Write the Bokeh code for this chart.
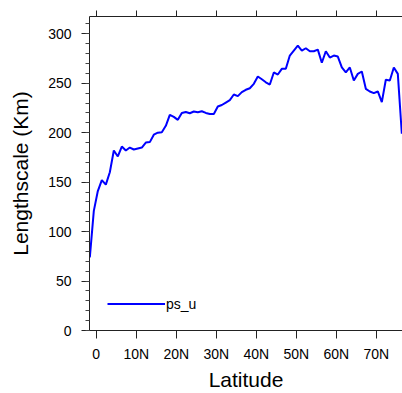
from bokeh.plotting import figure
from bokeh.models import Range1d, FixedTicker, LinearAxis, Legend, LegendItem
from bokeh.embed import file_html
from bokeh.resources import INLINE

# Data
latitude = [-1.6, -0.6, 0.4, 1.4, 2.4, 3.4, 4.4, 5.4, 6.4, 7.4, 8.4, 9.4,
            10.4, 11.4, 12.4, 13.4, 14.4, 15.4, 16.4, 17.4, 18.4, 19.4,
            20.4, 21.4, 22.4, 23.4, 24.4, 25.4, 26.4, 27.4, 28.4, 29.4,
            30.4, 31.4, 32.4, 33.4, 34.4, 35.4, 36.4, 37.4, 38.4, 39.4,
            40.4, 41.4, 42.4, 43.4, 44.4, 45.4, 46.4, 47.4, 48.4, 49.4,
            50.4, 51.4, 52.4, 53.4, 54.4, 55.4, 56.4, 57.4, 58.4, 59.4,
            60.4, 61.4, 62.4, 63.4, 64.4, 65.4, 66.4, 67.4, 68.4, 69.4,
            70.4, 71.4, 72.4, 73.4, 74.4, 75.4, 76.4]
ps_u = [74, 121, 141, 152, 147.5, 160, 182, 176, 186, 182, 185, 183,
        184, 185, 190, 190.5, 198, 200, 200.5, 207, 218, 216,
        213, 220, 221, 219.7, 221.4, 220.7, 221.7, 220, 219, 219,
        226.5, 228, 230.5, 233, 238.6, 237, 241, 243.4, 245, 249.4,
        256.8, 254, 251, 248.7, 260.9, 258.8, 264.6, 264.6, 278, 283,
        288, 283, 285.4, 282.4, 282.4, 284, 270.7, 282.4, 276, 278,
        277, 266, 261, 266, 252.8, 259.5, 261.9, 244.4, 241.7, 240,
        241.7, 230.9, 253.5, 252.8, 266, 259.5, 199]
series_name = "ps_u"
x_ticks = [0, 10, 20, 30, 40, 50, 60, 70]
x_tick_labels = ["0", "10N", "20N", "30N", "40N", "50N", "60N", "70N"]
y_ticks = [0, 50, 100, 150, 200, 250, 300]
y_minor_ticks = list(range(0, 320, 10))

FONT = "Liberation Sans"

p = figure(width=402, height=393, output_backend="svg", toolbar_location=None,
           x_range=Range1d(-1.68, 76.57), y_range=Range1d(0, 317.5),
           min_border_left=89, min_border_right=0, min_border_top=16,
           min_border_bottom=63, x_axis_location=None, y_axis_location=None)
p.outline_line_color = None
p.xgrid.visible = False
p.ygrid.visible = False
p.background_fill_color = "white"
p.border_fill_color = "white"

r = p.line(latitude, ps_u, line_color="#0000ff", line_width=2)

overrides = {t: s for t, s in zip(x_ticks, x_tick_labels)}

xb = LinearAxis(ticker=FixedTicker(ticks=x_ticks), axis_label="Latitude")
xb.major_label_overrides = overrides
xb.major_tick_out = 8
xb.major_tick_in = 0
xb.minor_tick_out = 0
xb.minor_tick_in = 0
xb.major_label_standoff = 7
xb.axis_label_standoff = 3
xb.major_label_text_font = FONT
xb.major_label_text_font_size = "14px"
xb.axis_label_text_font = FONT
xb.axis_label_text_font_size = "21px"
xb.axis_label_text_font_style = "normal"
xb.major_label_text_color = "black"
xb.axis_label_text_color = "black"
xb.axis_line_color = "#222222"
xb.major_tick_line_color = "#222222"
p.add_layout(xb, "below")

xt = LinearAxis(ticker=FixedTicker(ticks=x_ticks))
xt.major_label_overrides = {t: "" for t in x_ticks}
xt.major_label_text_font_size = "1px"
xt.major_label_standoff = 0
xt.major_tick_out = 6
xt.major_tick_in = 0
xt.minor_tick_out = 0
xt.minor_tick_in = 0
xt.axis_line_color = "#222222"
xt.major_tick_line_color = "#222222"
p.add_layout(xt, "above")

yl = LinearAxis(ticker=FixedTicker(ticks=y_ticks, minor_ticks=y_minor_ticks),
                axis_label="Lengthscale (Km)")
yl.major_tick_out = 8
yl.major_tick_in = 0
yl.minor_tick_out = 4
yl.minor_tick_in = 0
yl.major_label_standoff = 10
yl.axis_label_standoff = 13
yl.major_label_text_font = FONT
yl.major_label_text_font_size = "14px"
yl.axis_label_text_font = FONT
yl.axis_label_text_font_size = "21px"
yl.axis_label_text_font_style = "normal"
yl.major_label_text_color = "black"
yl.axis_label_text_color = "black"
yl.axis_line_color = "#222222"
yl.major_tick_line_color = "#222222"
yl.minor_tick_line_color = "#444444"
p.add_layout(yl, "left")

legend = Legend(items=[LegendItem(label=series_name, renderers=[r])],
                location=(18, 18), glyph_width=58, glyph_height=17,
                label_height=17, label_standoff=1, padding=0, margin=0,
                spacing=0, border_line_alpha=0, background_fill_alpha=0,
                label_text_font=FONT, label_text_font_size="14px",
                label_text_color="black")
p.add_layout(legend, "center")

open("out.html", "w").write(file_html(p, INLINE))
